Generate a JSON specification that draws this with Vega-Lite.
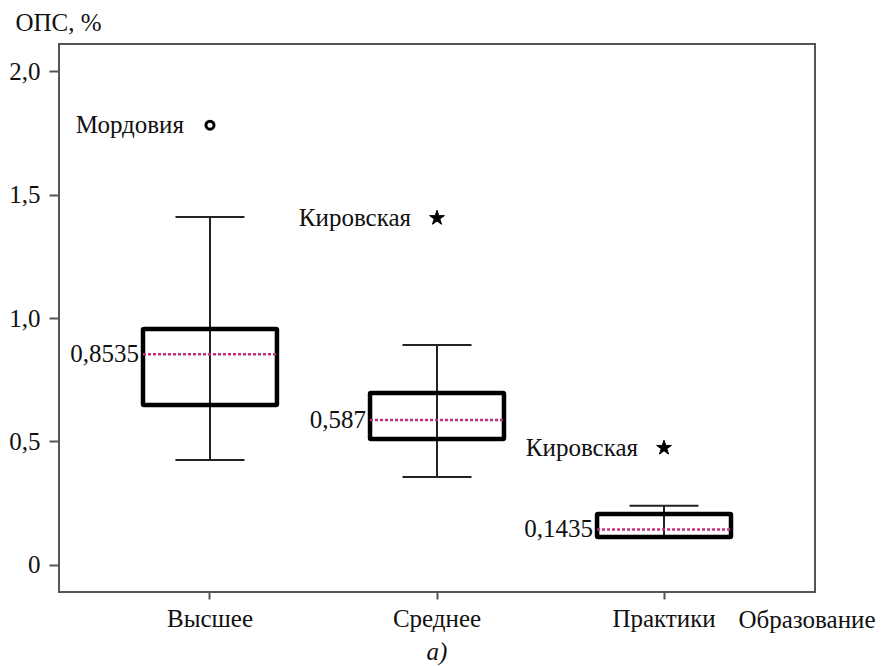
{
  "$schema": "https://vega.github.io/schema/vega-lite/v6.json",
  "width": 756,
  "height": 548,
  "autosize": "none",
  "padding": {"left": 59, "top": 44, "right": 72, "bottom": 74},
  "background": "white",
  "config": {
    "view": {"stroke": "#555555", "strokeWidth": 2},
    "font": "'Liberation Serif', 'DejaVu Serif', serif",
    "axis": {"labelFont": "'Liberation Serif', 'DejaVu Serif', serif", "titleFont": "'Liberation Serif', 'DejaVu Serif', serif", "labelColor": "#111", "titleColor": "#111", "titleFontWeight": "normal", "domain": false, "grid": false, "tickColor": "#555555", "tickWidth": 2}
  },
  "title": {"text": "а)", "orient": "bottom", "anchor": "middle", "font": "'Liberation Serif', 'DejaVu Serif', serif", "fontStyle": "italic", "fontWeight": "normal", "fontSize": 25, "color": "#111", "offset": 8},
  "datasets": {
    "boxes": [
      {"cat": "Высшее", "low": 0.425, "q1": 0.648, "median": 0.8535, "q3": 0.955, "high": 1.409, "label": "0,8535"},
      {"cat": "Среднее", "low": 0.356, "q1": 0.51, "median": 0.587, "q3": 0.696, "high": 0.891, "label": "0,587"},
      {"cat": "Практики", "low": 0.112, "q1": 0.113, "median": 0.1435, "q3": 0.206, "high": 0.239, "label": "0,1435"}
    ],
    "outliers": [
      {"cat": "Высшее", "value": 1.781, "name": "Мордовия", "kind": "circle"},
      {"cat": "Среднее", "value": 1.405, "name": "Кировская", "kind": "star"},
      {"cat": "Практики", "value": 0.474, "name": "Кировская", "kind": "star"}
    ]
  },
  "encoding": {
    "x": {
      "field": "cat", "type": "nominal",
      "sort": ["Высшее", "Среднее", "Практики"],
      "scale": {"type": "band", "paddingInner": 0, "paddingOuter": 0.165},
      "axis": {"orient": "bottom", "title": "Образование", "labelAngle": 0, "labelFontSize": 25, "titleFontSize": 25, "tickSize": 7, "labelPadding": 7, "titleX": 679, "titleY": 27, "titleAlign": "left", "titleBaseline": "middle", "titleAnchor": "start"}
    }
  },
  "layer": [
    {
      "data": {"name": "boxes"},
      "mark": {"type": "rule", "color": "#222", "strokeWidth": 2},
      "encoding": {
        "y": {"field": "low", "type": "quantitative",
          "scale": {"domain": [-0.11, 2.11], "nice": false, "zero": false},
          "axis": {"title": "ОПС, %", "values": [0, 0.5, 1, 1.5, 2], "labelExpr": "datum.value == 0 ? '0' : replace(format(datum.value, '.1f'), '.', ',')", "labelFontSize": 25, "titleFontSize": 25, "tickSize": 10, "labelPadding": 9, "titleAngle": 0, "titleX": -44, "titleY": -22, "titleAlign": "left", "titleBaseline": "middle", "titleAnchor": "start"}
        },
        "y2": {"field": "high"}
      }
    },
    {
      "data": {"name": "boxes"},
      "mark": {"type": "tick", "color": "#222", "size": 69, "thickness": 2, "orient": "horizontal", "opacity": 1},
      "encoding": {"y": {"field": "low", "type": "quantitative"}}
    },
    {
      "data": {"name": "boxes"},
      "mark": {"type": "tick", "color": "#222", "size": 69, "thickness": 2, "orient": "horizontal", "opacity": 1},
      "encoding": {"y": {"field": "high", "type": "quantitative"}}
    },
    {
      "data": {"name": "boxes"},
      "mark": {"type": "bar", "fill": "white", "fillOpacity": 0, "stroke": "#000", "strokeWidth": 4.5, "width": {"band": 0.59}, "cornerRadius": 1},
      "encoding": {"y": {"field": "q1", "type": "quantitative"}, "y2": {"field": "q3"}}
    },
    {
      "data": {"name": "boxes"},
      "mark": {"type": "rule", "color": "#c2307a", "strokeWidth": 2.5, "strokeDash": [3, 2]},
      "encoding": {
        "x": {"field": "cat", "type": "nominal", "sort": ["Высшее", "Среднее", "Практики"], "bandPosition": 0.205},
        "x2": {"field": "cat", "bandPosition": 0.795},
        "y": {"field": "median", "type": "quantitative"}
      }
    },
    {
      "data": {"name": "boxes"},
      "mark": {"type": "text", "align": "right", "baseline": "middle", "dx": -71, "fontSize": 25, "font": "'Liberation Serif', 'DejaVu Serif', serif", "color": "#111"},
      "encoding": {"y": {"field": "median", "type": "quantitative"}, "text": {"field": "label"}}
    },
    {
      "data": {"name": "outliers"},
      "transform": [{"filter": "datum.kind == 'circle'"}],
      "mark": {"type": "point", "shape": "circle", "filled": false, "stroke": "#000", "strokeWidth": 3, "size": 65, "opacity": 1},
      "encoding": {"y": {"field": "value", "type": "quantitative"}}
    },
    {
      "data": {"name": "outliers"},
      "transform": [{"filter": "datum.kind == 'star'"}],
      "mark": {"type": "point", "shape": "M0,-1L0.2245,-0.309L0.951,-0.309L0.363,0.118L0.588,0.809L0,0.382L-0.588,0.809L-0.363,0.118L-0.951,-0.309L-0.2245,-0.309Z", "filled": true, "color": "#000", "stroke": "#000", "strokeWidth": 1, "opacity": 1, "size": 240},
      "encoding": {"y": {"field": "value", "type": "quantitative"}}
    },
    {
      "data": {"name": "outliers"},
      "mark": {"type": "text", "align": "right", "baseline": "middle", "dx": -26, "fontSize": 25, "font": "'Liberation Serif', 'DejaVu Serif', serif", "color": "#111"},
      "encoding": {"y": {"field": "value", "type": "quantitative"}, "text": {"field": "name"}}
    }
  ]
}
